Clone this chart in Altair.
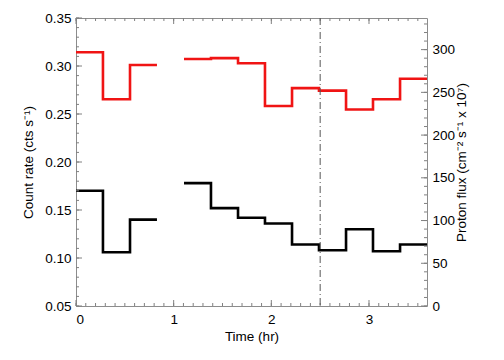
import altair as alt
import pandas as pd

# ---- data ----
bin_edges = [0.0, 0.276, 0.553, 0.829, 1.106, 1.382, 1.659, 1.935, 2.212, 2.488, 2.765, 3.041, 3.318, 3.594]
count_rate = [0.170, 0.106, 0.140, None, 0.178, 0.152, 0.142, 0.136, 0.114, 0.108, 0.130, 0.107, 0.114]
proton_flux = [297, 242, 282, None, 289, 290, 284, 234, 255, 252, 230, 242, 266]
marker_time = [2.5]

x_major = [0, 1, 2, 3]
x_minor = [round(i * 0.1, 1) for i in range(36)]
left_major = [0.05, 0.10, 0.15, 0.20, 0.25, 0.30, 0.35]
left_minor = [round(0.05 + i * 0.01, 2) for i in range(31)]
right_major = [0, 50, 100, 150, 200, 250, 300]
right_minor = [i * 10 for i in range(34)]

X_DOMAIN = [0, 3.594]
LEFT_DOMAIN = [0.05, 0.35]
RIGHT_DOMAIN = [0, 337]

W, H = 351, 288
FONT = "Liberation Sans"
FRAME = "#8c8c8c"
TICK = "#808080"
FS = 13.5


def steps(values):
    rows, seg = [], 0
    run = []
    for i, v in enumerate(values):
        if v is None:
            if run:
                rows += run + [(bin_edges[i], run[-1][1], seg)]
                seg += 1
                run = []
            continue
        run.append((bin_edges[i], v, seg))
    if run:
        rows += run + [(bin_edges[len(values)], run[-1][1], seg)]
    return pd.DataFrame(rows, columns=["t", "v", "seg"])


df_rate = steps(count_rate)
df_flux = steps(proton_flux)

xs = alt.Scale(domain=X_DOMAIN, nice=False, zero=False)
ls = alt.Scale(domain=LEFT_DOMAIN, nice=False, zero=False)
rs = alt.Scale(domain=RIGHT_DOMAIN, nice=False, zero=False)

TXT = dict(labelFont=FONT, titleFont=FONT, labelFontSize=FS, titleFontSize=FS,
           labelColor="black", titleColor="black", titleFontWeight="normal")

# black: count rate (left axis), bottom axis labels
black = alt.Chart(df_rate).mark_line(
    interpolate="step-after", color="black", strokeWidth=2.6
).encode(
    x=alt.X("t:Q", scale=xs, axis=alt.Axis(
        orient="bottom", values=x_major, format="d", ticks=False, grid=False,
        domainColor=FRAME, labelPadding=6, title="Time (hr)", titlePadding=4, **TXT)),
    y=alt.Y("v:Q", scale=ls, axis=alt.Axis(
        orient="left", values=left_major, format=".2f", ticks=False, grid=False,
        domainColor=FRAME, labelPadding=5, title="Count rate (cts  s\u207b\u00b9)",
        titlePadding=9, **TXT)),
    detail="seg:N",
)

# red: proton flux (right axis), top frame line
red = alt.Chart(df_flux).mark_line(
    interpolate="step-after", color="#f01414", strokeWidth=2.6
).encode(
    x=alt.X("t:Q", scale=xs, axis=alt.Axis(
        orient="top", labels=False, ticks=False, grid=False, domainColor=FRAME, title=None)),
    y=alt.Y("v:Q", scale=rs, axis=alt.Axis(
        orient="right", values=right_major, format="d", ticks=False, grid=False,
        domainColor=FRAME, labelPadding=5,
        title="Proton flux (cm\u207b\u00b2 s\u207b\u00b9 x 10\u2077)",
        titleAngle=270, titlePadding=14, **TXT)),
    detail="seg:N",
)


# inward tick marks, placed through the scales
def yticks(values, scale, side, size):
    x0, x1 = (0, size) if side == "left" else (W - size, W)
    return alt.Chart(pd.DataFrame({"v": values})).mark_rule(
        color=TICK, strokeWidth=1
    ).encode(
        y=alt.Y("v:Q", scale=scale, axis=None),
        x=alt.value(x0), x2=alt.value(x1),
    )


def xticks(values, side, size):
    y0, y1 = (H - size, H) if side == "bottom" else (0, size)
    return alt.Chart(pd.DataFrame({"t": values})).mark_rule(
        color=TICK, strokeWidth=1
    ).encode(
        x=alt.X("t:Q", scale=xs, axis=None),
        y=alt.value(y0), y2=alt.value(y1),
    )


tick_layers = [
    yticks(left_minor, ls, "left", 3), yticks(left_major, ls, "left", 6),
    yticks(right_minor, rs, "right", 3), yticks(right_major, rs, "right", 6),
    xticks(x_minor, "bottom", 3), xticks(x_major, "bottom", 6),
    xticks(x_minor, "top", 3), xticks(x_major, "top", 6),
]

marker = alt.Chart(pd.DataFrame({"t": marker_time})).mark_rule(
    color="#555555", strokeWidth=1, strokeDash=[7, 3, 1, 3]
).encode(x=alt.X("t:Q", scale=xs, axis=None))

chart = alt.layer(
    black, red, *tick_layers, marker
).resolve_scale(y="independent").resolve_axis(x="independent", y="independent").properties(
    width=W, height=H,
    autosize=alt.AutoSizeParams(type="none"),
    padding={"left": 68, "top": 10, "right": 69, "bottom": 46},
    background="white",
).configure_view(stroke=None).configure_axis(
    titleFontWeight="normal", titleFont=FONT, labelFont=FONT
)

chart.save("out.html", embed_options={"renderer": "svg", "actions": False})
